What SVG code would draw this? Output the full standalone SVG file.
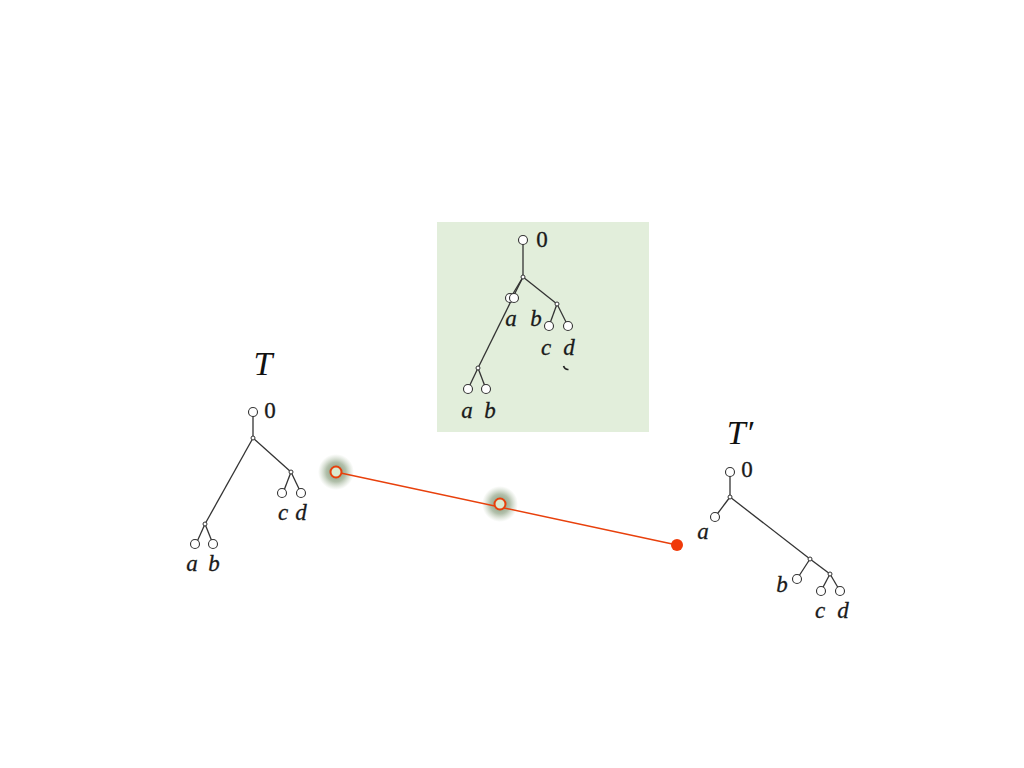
<svg xmlns="http://www.w3.org/2000/svg" width="1024" height="768" viewBox="0 0 1024 768">
<defs>
<style>
.e{stroke:#333;stroke-width:1.3;fill:none}
.lf{fill:#fff;stroke:#333;stroke-width:1.1}
.in{fill:#fff;stroke:#333;stroke-width:1}
.lb{font-family:"Liberation Serif",serif;font-style:italic;font-size:23px;fill:#1a1a1a;stroke:#1a1a1a;stroke-width:0.3;text-anchor:middle}
.z{font-family:"Liberation Serif",serif;font-size:23px;fill:#1a1a1a;stroke:#1a1a1a;stroke-width:0.3;text-anchor:middle}
.tt{font-family:"Liberation Serif",serif;font-style:italic;font-size:34px;fill:#111;text-anchor:middle}
.pt{fill:#d9ead0;stroke:#e8400c;stroke-width:2}
</style>
<radialGradient id="glow">
<stop offset="0" stop-color="#5f7a52" stop-opacity="0.85"/>
<stop offset="0.55" stop-color="#748d67" stop-opacity="0.55"/>
<stop offset="1" stop-color="#9bb08f" stop-opacity="0"/>
</radialGradient>
</defs>
<rect width="1024" height="768" fill="#fff"/>

<g id="inset">
<rect x="437" y="222" width="212" height="210" fill="#e2eedb"/>
<g class="e">
<line x1="523" y1="244" x2="523" y2="277"/>
<line x1="523" y1="277" x2="478" y2="368"/>
<line x1="523" y1="277" x2="511" y2="297"/>
<line x1="523" y1="277" x2="557" y2="304"/>
<line x1="557" y1="304" x2="549" y2="326"/>
<line x1="557" y1="304" x2="568" y2="326"/>
<line x1="478" y1="368" x2="468" y2="389"/>
<line x1="478" y1="368" x2="486" y2="389"/>
<path d="M563.5,366 q1.5,4 5,3.5" stroke="#222" stroke-width="1.6"/>
</g>
<circle class="lf" cx="523" cy="240" r="4.5"/>
<circle class="in" cx="523" cy="277" r="2"/>
<circle class="lf" cx="510" cy="298" r="4.5"/>
<circle class="lf" cx="514" cy="298" r="4.5"/>
<circle class="in" cx="557" cy="304" r="2"/>
<circle class="lf" cx="549" cy="326" r="4.5"/>
<circle class="lf" cx="568" cy="326" r="4.5"/>
<circle class="in" cx="478" cy="368" r="2"/>
<circle class="lf" cx="468" cy="389" r="4.5"/>
<circle class="lf" cx="486" cy="389" r="4.5"/>
<text class="z" x="542" y="247">0</text>
<text class="lb" x="511" y="326">a</text>
<text class="lb" x="536" y="326">b</text>
<text class="lb" x="546" y="355">c</text>
<text class="lb" x="569" y="355">d</text>
<text class="lb" x="467" y="418">a</text>
<text class="lb" x="490" y="418">b</text>
</g>

<g id="treeT">
<text class="tt" x="263" y="375">T</text>
<g class="e">
<line x1="253" y1="416" x2="253" y2="438"/>
<line x1="253" y1="438" x2="205" y2="524"/>
<line x1="253" y1="438" x2="291" y2="472"/>
<line x1="205" y1="524" x2="196" y2="544"/>
<line x1="205" y1="524" x2="213" y2="544"/>
<line x1="291" y1="472" x2="283" y2="493"/>
<line x1="291" y1="472" x2="301" y2="493"/>
</g>
<circle class="lf" cx="253" cy="412" r="4.5"/>
<circle class="in" cx="253" cy="438" r="2"/>
<circle class="in" cx="205" cy="524" r="2"/>
<circle class="in" cx="291" cy="472" r="2"/>
<circle class="lf" cx="195" cy="544" r="4.5"/>
<circle class="lf" cx="213" cy="544" r="4.5"/>
<circle class="lf" cx="282" cy="493" r="4.5"/>
<circle class="lf" cx="301" cy="493" r="4.5"/>
<text class="z" x="270" y="418">0</text>
<text class="lb" x="192" y="571">a</text>
<text class="lb" x="214" y="571">b</text>
<text class="lb" x="283" y="520">c</text>
<text class="lb" x="301" y="520">d</text>
</g>

<g id="treeTp">
<text class="tt" x="740" y="444">T′</text>
<g class="e">
<line x1="730" y1="476" x2="730" y2="497"/>
<line x1="730" y1="497" x2="715" y2="517"/>
<line x1="730" y1="497" x2="810" y2="559"/>
<line x1="810" y1="559" x2="797" y2="579"/>
<line x1="810" y1="559" x2="830" y2="574"/>
<line x1="830" y1="574" x2="821" y2="591"/>
<line x1="830" y1="574" x2="840" y2="591"/>
</g>
<circle class="lf" cx="730" cy="472" r="4.5"/>
<circle class="in" cx="730" cy="497" r="2"/>
<circle class="lf" cx="715" cy="517" r="4.5"/>
<circle class="in" cx="810" cy="559" r="2"/>
<circle class="lf" cx="797" cy="579" r="4.5"/>
<circle class="in" cx="830" cy="574" r="2"/>
<circle class="lf" cx="821" cy="591" r="4.5"/>
<circle class="lf" cx="840" cy="591" r="4.5"/>
<text class="z" x="747" y="477">0</text>
<text class="lb" x="703" y="539">a</text>
<text class="lb" x="782" y="592">b</text>
<text class="lb" x="820" y="618">c</text>
<text class="lb" x="843" y="618">d</text>
</g>

<g id="connectors">
<circle cx="336" cy="472" r="18" fill="url(#glow)"/>
<circle cx="500" cy="504" r="18" fill="url(#glow)"/>
<line x1="336" y1="472" x2="677" y2="545" stroke="#e8400c" stroke-width="1.5"/>
<circle class="pt" cx="336" cy="472" r="5.5"/>
<circle class="pt" cx="500" cy="504" r="5.5"/>
<circle cx="677" cy="545" r="6" fill="#f03a0a"/>
</g>
</svg>
